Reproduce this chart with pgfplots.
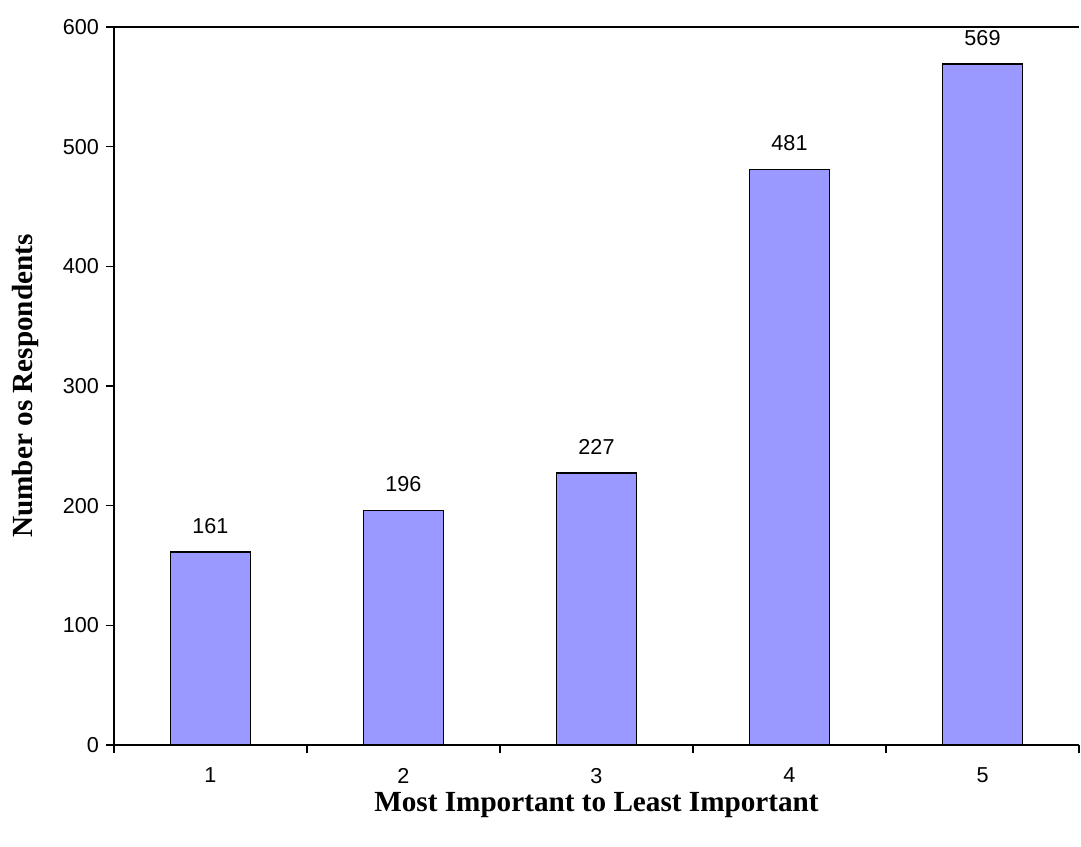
\documentclass[border=0pt]{standalone}
\usepackage{pgfplots}
\pgfplotsset{compat=1.18}
\usepackage{fontspec}
\setmainfont{Liberation Sans}
\newfontfamily\tnr{Liberation Serif}
\definecolor{barblue}{RGB}{153,153,255}
\begin{document}
\begin{tikzpicture}
\begin{axis}[
  at={(0,0)}, anchor=south west,
  scale only axis,
  width=482.5pt, height=359pt,
  xmin=0.5, xmax=5.5, ymin=0, ymax=600,
  axis x line*=bottom, axis y line*=left,
  axis line style={line width=0.75pt, black},
  tick align=outside,
  major tick length=4pt,
  tick style={line width=0.75pt, black},
  xtick={0.5,1.5,...,5.5},
  x tick label as interval,
  xticklabels={1,2,3,4,5},
  ytick={0,100,...,600},
  /pgf/number format/assume math mode=true,
  ticklabel style={font=\fontsize{10.8pt}{13pt}\selectfont},
  x tick label style={yshift=-4pt},
  xlabel={\tnr\bfseries Most Important to Least Important},
  ylabel={\tnr\bfseries Number os Respondents},
  label style={font=\fontsize{14.6pt}{17pt}\selectfont},
  xlabel style={at={(axis description cs:0.5,-0.0836)}, anchor=center},
  ylabel style={at={(axis description cs:-0.0922,0.5)}, anchor=center},
  ybar, bar width=0.415,
  nodes near coords,
  every node near coord/.append style={font=\fontsize{10.8pt}{13pt}\selectfont, yshift=5.5pt},
  clip=false,
]
\addplot[fill=barblue, draw=black, line width=0.9pt] coordinates {(1,161) (2,196) (3,227) (4,481) (5,569)};
\draw[line width=0.75pt, black] (rel axis cs:0,1) -- (rel axis cs:1,1);
\end{axis}
\pgfresetboundingbox
\path[use as bounding box] (-57pt,-50.5pt) rectangle (483.5pt,372.5pt);
\end{tikzpicture}
\end{document}
